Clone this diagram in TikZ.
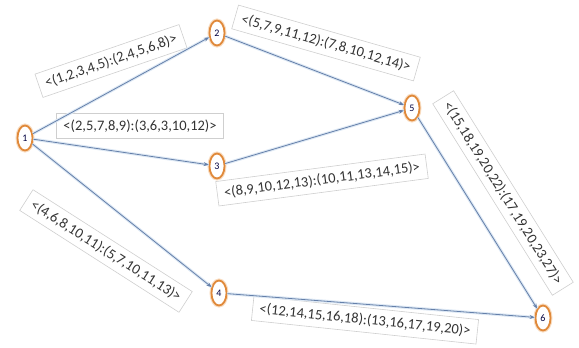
\documentclass[tikz,border=0pt]{standalone}
\usepackage{fontspec}
\setmainfont{Carlito}
\usetikzlibrary{arrows.meta,shapes.geometric}
\definecolor{edgeblue}{HTML}{6580AA}
\definecolor{glowblue}{HTML}{DDE8F4}
\definecolor{ringorange}{HTML}{E0893A}
\definecolor{ringglow}{HTML}{F8DCC0}
\definecolor{boxgray}{HTML}{CFCFCF}
\definecolor{txt}{HTML}{333333}
\tikzset{
  vtx/.style={ellipse, draw=ringorange, line width=1.8pt, fill=white,
    minimum width=15pt, minimum height=25pt, inner sep=0pt,
    font=\fontsize{10}{12}\selectfont, text=black!75!blue,
    preaction={draw=ringglow, line width=4pt}},
  lbl/.style={draw=boxgray, fill=white, line width=0.6pt, text=txt,
    font=\fontsize{14.5}{16}\selectfont, inner xsep=7pt, inner ysep=6pt},
  edge/.style={draw=edgeblue, line width=0.8pt, -{Stealth[length=5pt,width=4pt]},
    preaction={draw=glowblue, line width=3pt, -}}
}
\begin{document}
\begin{tikzpicture}[x=1pt,y=-1pt]
\useasboundingbox (0,0) rectangle (579,348);
% labels
\node[lbl, rotate=19]  (l12) at (111,61)  {<(1,2,3,4,5):(2,4,5,6,8)>};
\node[lbl]             (l13) at (140,126) {<(2,5,7,8,9):(3,6,3,10,12)>};
\node[lbl, rotate=-16] (l25) at (326,43)  {<(5,7,9,11,12):(7,8,10,12,14)>};
\node[lbl, rotate=7.5] (l35) at (322,180) {<(8,9,10,12,13):(10,11,13,14,15)>};
\node[lbl, rotate=-58] (l56) at (503,193) {<(15,18,19,20,22):(17,19,20,23,27)>};
\node[lbl, rotate=-32.6] (l14) at (106,251) {<(4,6,8,10,11):(5,7,10,11,13)>};
\node[lbl, rotate=-6]  (l46) at (365,320) {<(12,14,15,16,18):(13,16,17,19,20)>};
% vertices
\node[vtx] (n1) at (25,138)  {1};
\node[vtx] (n2) at (217,33)  {2};
\node[vtx] (n3) at (217,166) {3};
\node[vtx] (n4) at (219,293) {4};
\node[vtx] (n5) at (412,108) {5};
\node[vtx] (n6) at (543,318) {6};
% edges
\draw[edge] (n1) -- (n2);
\draw[edge] (n1) -- (n3);
\draw[edge] (n1) -- (n4);
\draw[edge] (n2) -- (n5);
\draw[edge] (n3) -- (n5);
\draw[edge] (n5) -- (n6);
\draw[edge] (n4) -- (n6);
\end{tikzpicture}
\end{document}
